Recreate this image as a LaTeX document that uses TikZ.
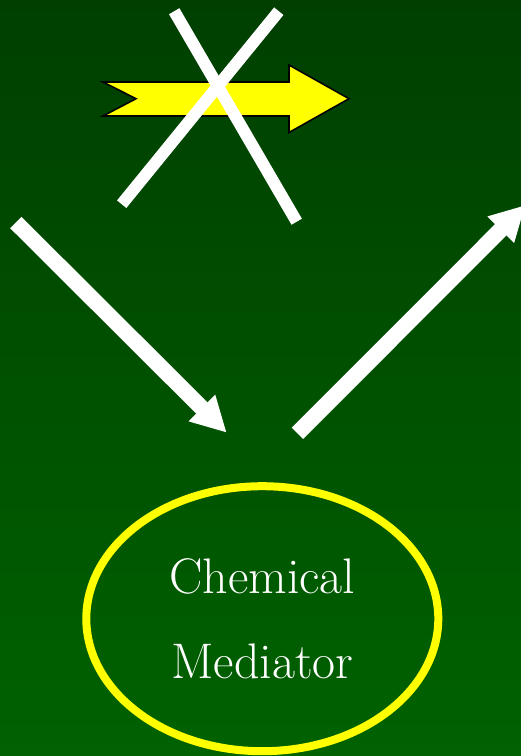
\documentclass[tikz,border=0pt]{standalone}
\usetikzlibrary{arrows.meta,shapes.geometric}
\definecolor{bgtop}{HTML}{003F00}
\definecolor{bgbot}{HTML}{006200}
\definecolor{lemon}{HTML}{FFFF00}
\tikzset{
 bigflow/.style={-{Triangle[length=35pt,width=35pt]},draw=white,line width=16pt},
 strike/.style={draw=white,line width=12pt},
 mediator/.style={ellipse,draw=lemon,line width=8pt,minimum width=352pt,minimum height=265pt,
   text=white,align=center,font=\fontsize{50}{85}\selectfont,inner sep=0pt}
}
\begin{document}
\begin{tikzpicture}[x=1pt,y=-1pt]
  \useasboundingbox (0,0) rectangle (521,756);
  \shade[top color=bgtop,bottom color=bgbot] (0,0) rectangle (521,756);

  % blocked transmission
  \filldraw[fill=lemon,draw=black,line width=1.6pt,line join=miter]
    (103,82) -- (136,98.7) -- (103,116) -- (289,116) -- (289,132.5)
    -- (349,98.7) -- (289,65) -- (289,82) -- cycle;
  \coordinate (xa1) at (174.2,11.2);
  \coordinate (xa2) at (296.7,221.7);
  \coordinate (xb1) at (278.8,11.2);
  \coordinate (xb2) at (121.7,204.2);
  \draw[strike] (xa1) -- (xa2);
  \draw[strike] (xb1) -- (xb2);

  \node[mediator] (med) at (262.3,618.7) {Chemical\\Mediator};

  % in and out of the mediator
  \coordinate (inStart) at (15.8,222.5);
  \coordinate (inEnd) at (226.7,432.7);
  \coordinate (outStart) at (297.5,433.3);
  \coordinate (outEnd) at (525.5,205);
  \draw[bigflow] (inStart) -- (inEnd);
  \draw[bigflow] (outStart) -- (outEnd);
\end{tikzpicture}
\end{document}
